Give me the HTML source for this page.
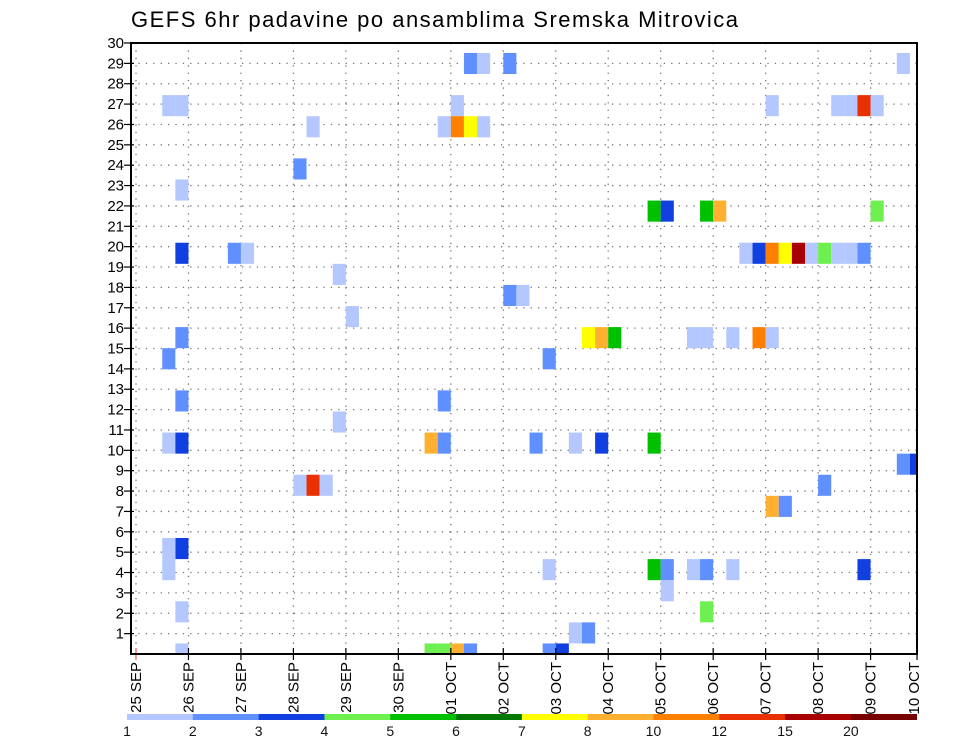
<!DOCTYPE html>
<html><head><meta charset="utf-8"><style>
html,body{margin:0;padding:0;background:#fff;}
svg{display:block;font-family:"Liberation Sans",sans-serif;}
</style></head><body>
<svg id="chart" width="960" height="742" viewBox="0 0 960 742" xmlns="http://www.w3.org/2000/svg">
<text x="131" y="27" font-size="22" textLength="607" fill="#000">GEFS 6hr padavine po ansamblima Sremska Mitrovica</text>
<g id="grid"></g>
<g id="cells"></g>
<g id="axes"></g>
<g id="legend"></g>
</svg>
<script>
// x: 6-hour step index from 25 SEP 00Z; member: ensemble row; level: colour class index
const cellStep   = [2,3,13,12,3,3,7,8,15,16,3,2,3,15,2,3,12,13,14,3,2,2,3,3,
  25,26,28,24,23,24,25,26,39,40,28,29,34,35,36,31,23,22,23,30,33,35,39,31,39,33,34,22,23,24,25,31,32,
  58,48,53,54,55,56,43,44,56,46,47,48,49,50,51,52,53,54,55,42,43,45,47,48,
  58,59,52,48,49,40,42,43,45,55,40,43];
const cellMember = [26,26,25,23,22,19,19,19,18,16,15,14,12,11,10,10,8,8,8,5,5,4,2,0,
  28,28,28,26,25,25,25,25,21,21,17,17,15,15,15,14,12,10,10,10,10,10,10,4,4,1,1,0,0,0,0,0,0,
  28,26,26,26,26,26,21,21,21,19,19,19,19,19,19,19,19,19,19,15,15,15,15,15,
  9,9,8,7,7,4,4,4,4,4,3,2];
const cellLevel  = [0,0,0,1,0,2,1,0,0,0,1,1,1,0,0,2,0,9,0,2,0,0,0,0,
  1,0,1,0,0,8,6,0,4,2,1,0,6,7,4,1,1,7,1,1,0,2,4,0,4,0,1,3,3,7,1,1,2,
  0,0,0,0,9,0,4,7,3,0,2,8,6,10,0,3,0,0,1,0,0,0,8,0,
  1,2,1,7,1,1,0,1,0,2,0,3];
const levelLabels = ["1","2","3","4","5","6","7","8","10","12","15","20"];
const levelColors = ["#b4c8ff","#6090ff","#1040e0","#6ef050","#00c000","#007800","#ffff00","#ffb030","#ff8000","#e83000","#a80000","#780000"];
const dayLabels = ["25 SEP","26 SEP","27 SEP","28 SEP","29 SEP","30 SEP","01 OCT","02 OCT","03 OCT","04 OCT","05 OCT","06 OCT","07 OCT","08 OCT","09 OCT","10 OCT"];
const yTicks = [1,2,3,4,5,6,7,8,9,10,11,12,13,14,15,16,17,18,19,20,21,22,23,24,25,26,27,28,29,30];

const NS="http://www.w3.org/2000/svg";
const L=131,R=917,T=43,B=654,X0=136,DAY=52.47;
const xDay=d=>X0+d*DAY;
const xStep=s=>X0+s*DAY/4;
const yAxis=k=>B-k*(B-T)/30;
const MEM=21.09;
const yMemTop=m=>B-(m+0.5)*MEM;
function mk(tag,attrs,parent){const e=document.createElementNS(NS,tag);for(const k in attrs)e.setAttribute(k,attrs[k]);parent.appendChild(e);return e;}
const grid=document.getElementById('grid'),cells=document.getElementById('cells'),axes=document.getElementById('axes'),legend=document.getElementById('legend');

yTicks.forEach(k=>{
  if(k<30){const g=mk('line',{x1:L,x2:R,y1:yAxis(k),y2:yAxis(k),stroke:'#777','stroke-width':1.3,'stroke-dasharray':'1.3 6.1'},grid);
  
  }
  const t=mk('line',{x1:L-7,x2:L+3,y1:yAxis(k),y2:yAxis(k),stroke:'#000','stroke-width':1.2},axes);
  
  
  const lb=mk('text',{x:L-7,y:yAxis(k)+5,'font-size':15,'text-anchor':'end',fill:'#000'},axes);
  
  
  lb.textContent=k;
});
dayLabels.forEach((d,i)=>{
  const x=xDay(i);
  if(i<15){const g=mk('line',{x1:x,x2:x,y1:T,y2:B,stroke:'#777','stroke-width':1.3,'stroke-dasharray':'1.3 6.1'},grid);
  
  }
  const t=mk('line',{x1:Math.min(x,R),x2:Math.min(x,R),y1:B-6,y2:B+6,stroke:i==0?'#e06060':'#000','stroke-width':1.2},axes);
  
  
  const xl=Math.min(x,R-3);
  const lb=mk('text',{x:0,y:0,'font-size':15,'text-anchor':'end',fill:'#000',transform:`translate(${xl+5},${B+8}) rotate(-90)`},axes);
  
  
  lb.textContent=d;
});
const W=DAY/4;
for(let i=0;i<cellStep.length;i++){
  const x=xStep(cellStep[i]);
  const top=yMemTop(cellMember[i]);
  const w=Math.min(W,R-x);
  const h=Math.min(MEM,B-top);
  const r=mk('rect',{x:x,y:top,width:w,height:h,fill:levelColors[cellLevel[i]]},cells);
  
  
}
const fr=mk('rect',{x:L,y:T,width:R-L,height:B-T,fill:'none',stroke:'#000','stroke-width':2},axes);



const LX=127,LW=(916.7-127)/levelColors.length;
levelColors.forEach((c,i)=>{
  const r=mk('rect',{x:LX+i*LW,y:714,width:LW+0.3,height:6,fill:c},legend);
  
  
  const t=mk('text',{x:LX+i*LW,y:736,'font-size':14,'text-anchor':'middle',fill:'#111'},legend);
  
  
  t.textContent=levelLabels[i];
});
</script>
</body></html>
